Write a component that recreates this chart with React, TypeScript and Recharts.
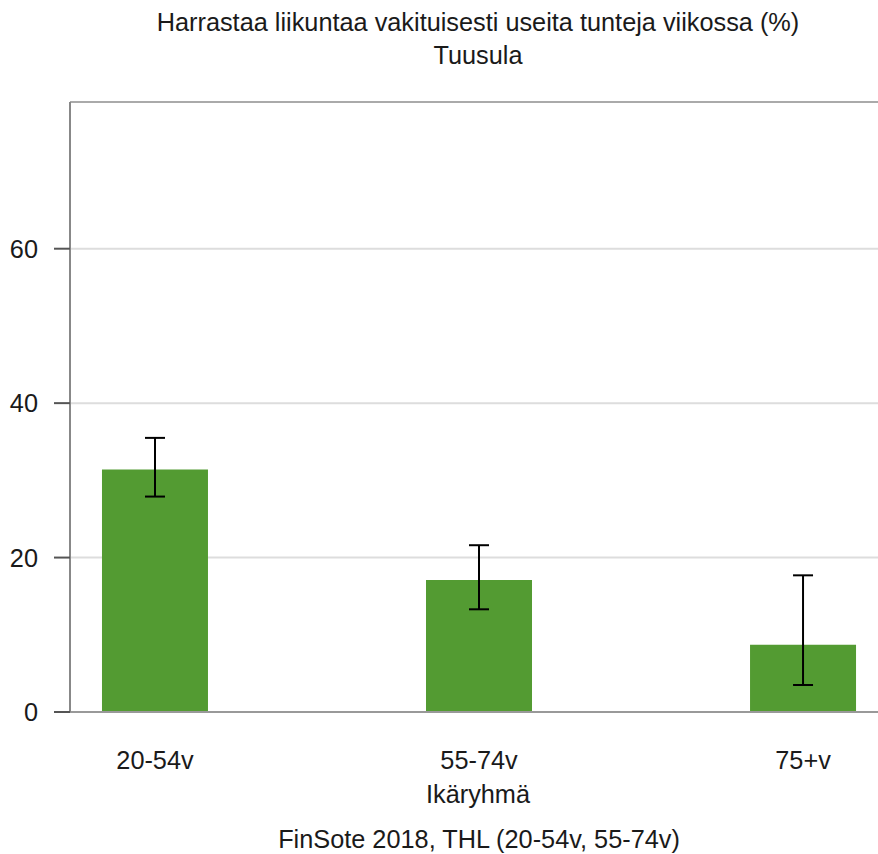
import React from 'react';
import { BarChart, Bar, XAxis, YAxis, CartesianGrid, ErrorBar, ReferenceLine } from 'recharts';

const title1 = 'Harrastaa liikuntaa vakituisesti useita tunteja viikossa (%)';
const title2 = 'Tuusula';
const xLabel = 'Ikäryhmä';
const footer = 'FinSote 2018, THL (20-54v, 55-74v)';

const categories = ['20-54v', '55-74v', '75+v'];
const values = [31.4, 17.1, 8.7];
const lower = [27.9, 13.3, 3.5];
const upper = [35.5, 21.6, 17.7];
const yTicks = [0, 20, 40, 60];
const xIdx = [0, 1, 2];

const data = categories.map((c, i) => ({
  idx: xIdx[i],
  name: c,
  value: values[i],
  err: [values[i] - lower[i], upper[i] - values[i]],
}));

const FONT = '"Liberation Sans", Arial, sans-serif';
const W = 886;
const H = 854;
const FS = 25.3;

export default function App() {
  return (
    <div style={{ position: 'absolute', left: 0, top: 0, width: 878, height: H, overflow: 'hidden', background: '#fff' }}>
      <BarChart
        width={W}
        height={H}
        data={data}
        margin={{ top: 102, right: 0, bottom: 112, left: 0 }}
      >
        <CartesianGrid vertical={false} stroke="#dddddd" strokeWidth={2} />
        <ReferenceLine y={79} stroke="#aaaaaa" strokeWidth={2} ifOverflow="extendDomain" />
        <XAxis
          dataKey="idx"
          type="number"
          domain={[-0.2623, 2.256]}
          ticks={xIdx}
          allowDataOverflow
          height={30}
          tickFormatter={(v: number) => categories[v] ?? ''}
          tickLine={false}
          tickSize={0}
          tickMargin={39}
          axisLine={{ stroke: '#999999', strokeWidth: 2 }}
          tick={{ fill: '#1a1a1a', fontSize: FS, fontFamily: FONT }}
        />
        <YAxis
          type="number"
          domain={[0, 79]}
          ticks={yTicks}
          width={70}
          tickSize={16}
          tickMargin={16}
          axisLine={{ stroke: '#888888', strokeWidth: 2 }}
          tickLine={{ stroke: '#555555', strokeWidth: 2 }}
          tick={{ fill: '#1a1a1a', fontSize: FS, fontFamily: FONT }}
        />
        <Bar dataKey="value" fill="#539b32" barSize={106} isAnimationActive={false}>
          <ErrorBar dataKey="err" width={10} stroke="#000000" strokeWidth={2} direction="y" />
        </Bar>
      </BarChart>
      <svg
        width={878}
        height={H}
        style={{ position: 'absolute', left: 0, top: 0, pointerEvents: 'none' }}
      >
        <g fontFamily={FONT} fontSize={FS} fill="#1a1a1a" textAnchor="middle">
          <text x={478} y={31}>{title1}</text>
          <text x={478} y={64}>{title2}</text>
          <text x={478} y={803}>{xLabel}</text>
          <text x={479} y={848}>{footer}</text>
        </g>
      </svg>
    </div>
  );
}
